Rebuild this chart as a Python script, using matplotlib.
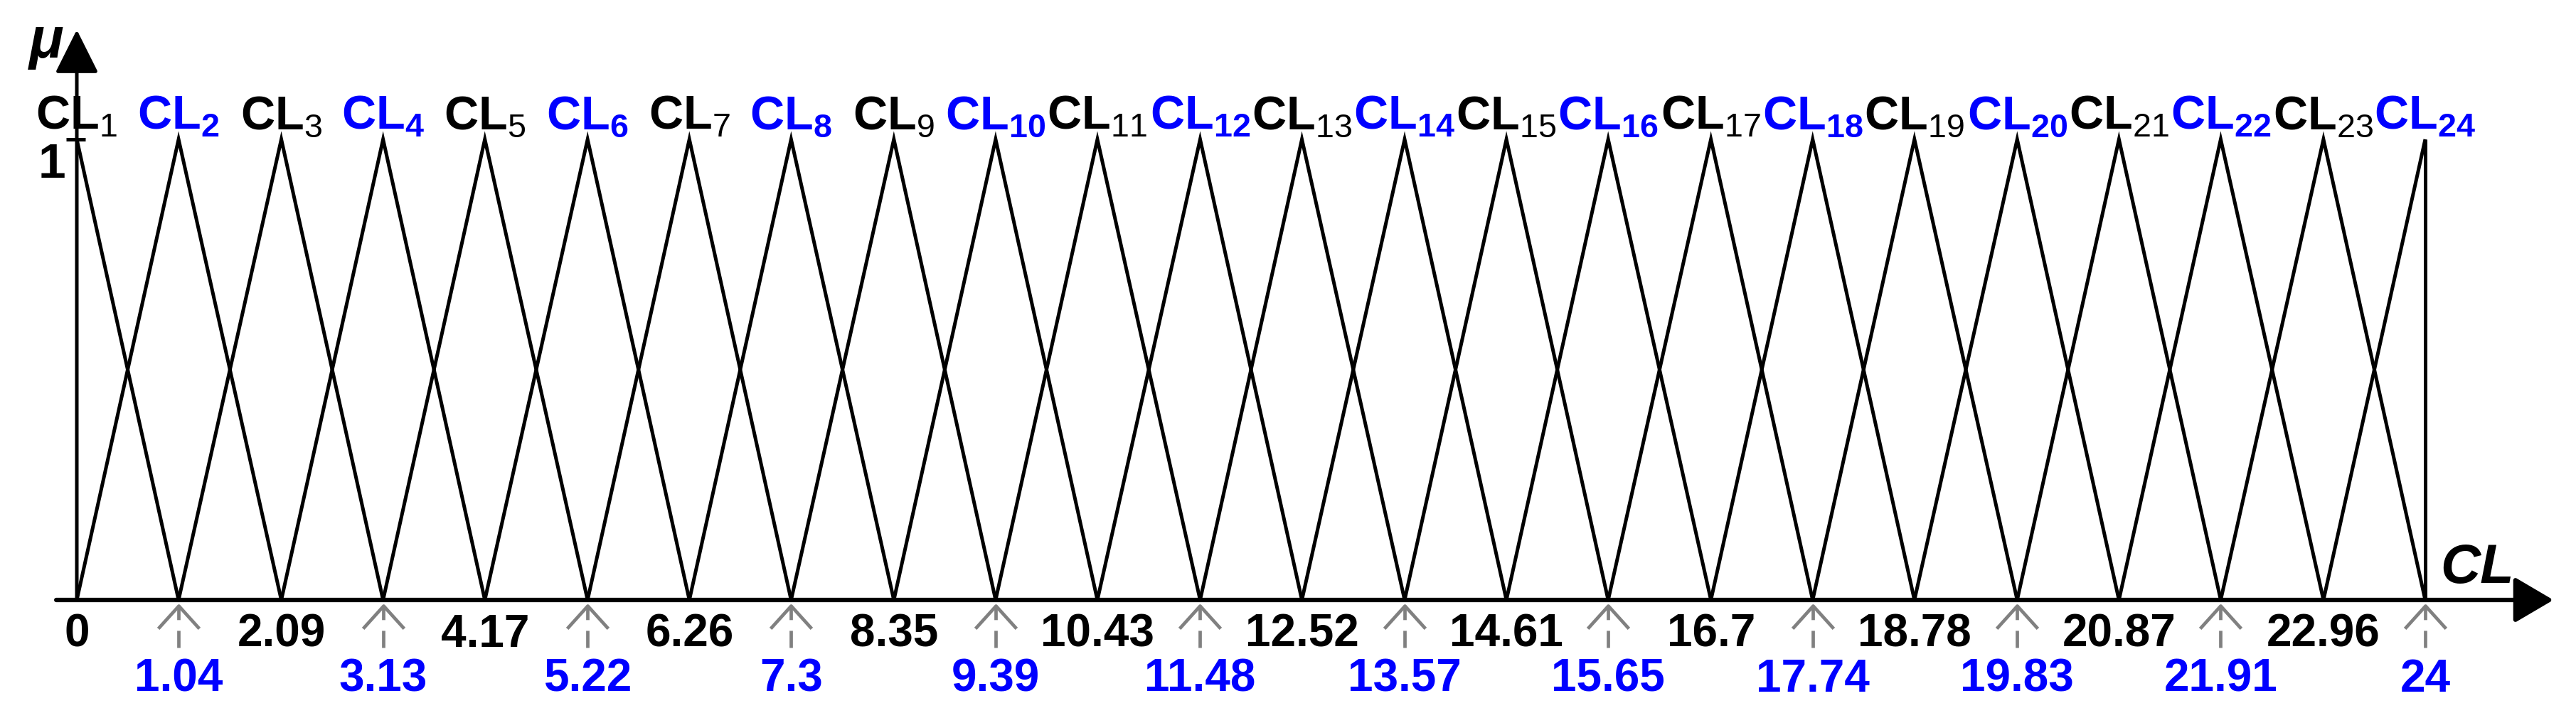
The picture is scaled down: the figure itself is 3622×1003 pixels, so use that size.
import numpy as np
import matplotlib
matplotlib.use('Agg')
import matplotlib.pyplot as plt
from matplotlib.path import Path

plt.rcParams['font.family'] = ['Liberation Sans', 'DejaVu Sans']
plt.rcParams['mathtext.fontset'] = 'custom'
plt.rcParams['mathtext.rm'] = 'Liberation Sans'
plt.rcParams['mathtext.bf'] = 'Liberation Sans:bold'

# peak positions of the 24 triangular sets CL1..CL24
centers = [0, 1.04, 2.09, 3.13, 4.17, 5.22, 6.26, 7.3, 8.35, 9.39, 10.43, 11.48,
           12.52, 13.57, 14.61, 15.65, 16.7, 17.74, 18.78, 19.83, 20.87, 21.91, 22.96, 24]
tick_labels = ['0', '1.04', '2.09', '3.13', '4.17', '5.22', '6.26', '7.3', '8.35',
               '9.39', '10.43', '11.48', '12.52', '13.57', '14.61', '15.65', '16.7',
               '17.74', '18.78', '19.83', '20.87', '21.91', '22.96', '24']
set_index = list(range(1, 25))

BLUE = '#0000FF'
GRAY = '#808080'

# pixel mapping: x=0 -> 108px, x=24 -> 3410px ; y=0 -> 845px, y=1 -> 197px
W, H = 3622, 1004
x0_px, sx = 108.0, (3410 - 108) / 24.0
y0_px, sy = 845.0, 845 - 197.0

fig = plt.figure(figsize=(W / 100, H / 100), dpi=100)
ax = fig.add_axes([0, 0, 1, 1])
ax.set_xlim(-x0_px / sx, (W - x0_px) / sx)
ax.set_ylim(-(H - y0_px) / sy, y0_px / sy)
ax.axis('off')

n = len(centers)
for i, c in enumerate(centers):
    xs, ys = [], []
    if i > 0:
        xs.append(centers[i - 1]); ys.append(0)
    xs.append(c); ys.append(1)
    if i < n - 1:
        xs.append(centers[i + 1]); ys.append(0)
    ax.plot(xs, ys, color='k', lw=3.6, solid_joinstyle='miter', solid_capstyle='butt')
# right shoulder of the last set
ax.plot([centers[-1], centers[-1]], [0, 1], color='k', lw=3.6, solid_capstyle='butt')

# axes with arrow heads
ax.annotate('', xy=(25.31, 0), xytext=(-0.21, 0),
            arrowprops=dict(arrowstyle='-|>,head_length=3.4,head_width=2.0',
                            lw=4.5, color='k', shrinkA=0, shrinkB=0, mutation_scale=10))
ax.annotate('', xy=(0, 1.2377), xytext=(0, 0),
            arrowprops=dict(arrowstyle='-|>,head_length=3.8,head_width=1.9',
                            lw=3.6, color='k', shrinkA=0, shrinkB=0, mutation_scale=10))
# tick at mu = 1
ax.plot([-0.109, 0.087], [1, 1], color='k', lw=3.6, solid_capstyle='butt')
ax.text(-0.254, 0.918, '1', fontsize=50, fontweight='bold', ha='center', va='baseline')
ax.text(-0.3125, 1.179, 'μ', fontsize=58, fontweight='bold', fontstyle='italic',
        ha='center', va='baseline')
ax.text(24.53, 0.0386, 'CL', fontsize=56, fontweight='bold', fontstyle='italic',
        ha='center', va='baseline')

# open chevron used as the head of the gray pointer arrows (tip at the vertex)
chevron = Path([(-28, -31), (0, 0), (28, -31)],
               [Path.MOVETO, Path.LINETO, Path.LINETO])

tip_y = (y0_px - 853) / sy
tail_y = (y0_px - 912) / sy
for i, (c, lab, k) in enumerate(zip(centers, tick_labels, set_index)):
    if i % 2 == 0:
        name = r'$\mathbf{CL}_{\mathrm{%d}}$' % k
        ax.text(c, 1.023, name, fontsize=48, color='k', ha='center', va='baseline')
        ax.text(c, -0.1003, lab, fontsize=46, fontweight='bold', color='k',
                ha='center', va='baseline')
    else:
        name = r'$\mathbf{CL}_{\mathbf{%d}}$' % k
        ax.text(c, 1.023, name, fontsize=48, color=BLUE, ha='center', va='baseline')
        ax.text(c, -0.1975, lab, fontsize=46, fontweight='bold', color=BLUE,
                ha='center', va='baseline')
        # dashed pointer arrow from the blue value up to the axis
        ax.plot([c, c], [tail_y, tip_y], color=GRAY, lw=3.4,
                linestyle=(0, (5.1, 3.2)), dash_capstyle='butt')
        ax.plot([c], [tip_y], ls='none', marker=chevron, ms=46, mew=3.4,
                mec=GRAY, mfc='none')

fig.savefig('out.png', dpi=100, facecolor='white')
